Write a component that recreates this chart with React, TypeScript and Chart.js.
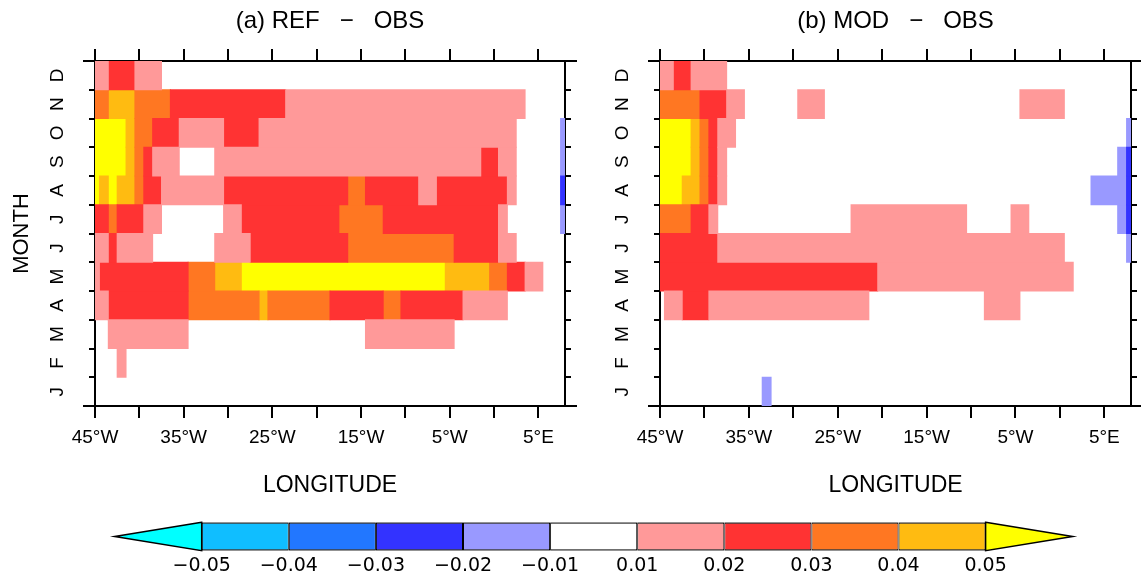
import React, { useEffect, useRef } from 'react';
import { Chart, registerables } from 'chart.js';

Chart.register(...registerables);

// ---------- axes / categories ----------
const months = ['Jan', 'Feb', 'Mar', 'Apr', 'May', 'Jun', 'Jul', 'Aug', 'Sep', 'Oct', 'Nov', 'Dec'];
const monthLetters = ['J', 'F', 'M', 'A', 'M', 'J', 'J', 'A', 'S', 'O', 'N', 'D'];
const lonMin = -45;
const lonMax = 8;
const lonTicks = [-45, -40, -35, -30, -25, -20, -15, -10, -5, 0, 5];
const lonTickLabels = ['45°W', '', '35°W', '', '25°W', '', '15°W', '', '5°W', '', '5°E'];

// ---------- contour levels ----------
const levelBounds = [-0.05, -0.04, -0.03, -0.02, -0.01, 0.01, 0.02, 0.03, 0.04, 0.05];
const levelLabels = ['−0.05', '−0.04', '−0.03', '−0.02', '−0.01', '0.01', '0.02', '0.03', '0.04', '0.05'];
const levelColors = ['#00FFFF', '#10BEFF', '#2277FF', '#3333FF', '#9999FF', '#FFFFFF', '#FF9999', '#FF3333', '#FF7722', '#FFBB11', '#FFFF00'];

// ---------- panel (a) REF − OBS : runs [first lon, last lon, value] (1° cells) ----------
const refJan: number[][] = [];
const refFeb = [[-42, -42, 0.015]];
const refMar = [[-43, -35, 0.015], [-14, -5, 0.015]];
const refApr = [[-45, -44, 0.015], [-43, -35, 0.025], [-34, -27, 0.035], [-26, -26, 0.045], [-25, -19, 0.035], [-18, -13, 0.025], [-12, -11, 0.035], [-10, -4, 0.025], [-3, 1, 0.015]];
const refMay = [[-45, -45, 0.015], [-44, -35, 0.025], [-34, -32, 0.035], [-31, -29, 0.045], [-28, -6, 0.055], [-5, -1, 0.045], [0, 1, 0.035], [2, 3, 0.025], [4, 5, 0.015]];
const refJun = [[-45, -44, 0.015], [-43, -43, 0.025], [-42, -39, 0.015], [-31, -28, 0.015], [-27, -17, 0.025], [-16, -5, 0.035], [-4, 0, 0.025], [1, 2, 0.015]];
const refJul = [[-45, -44, 0.025], [-43, -43, 0.035], [-42, -40, 0.025], [-39, -38, 0.015], [-30, -29, 0.015], [-28, -18, 0.025], [-17, -13, 0.035], [-12, 0, 0.025], [1, 1, 0.015], [8, 8, -0.015]];
const refAug = [[-45, -45, 0.055], [-44, -44, 0.045], [-43, -43, 0.055], [-42, -41, 0.045], [-40, -40, 0.035], [-39, -38, 0.025], [-37, -31, 0.015], [-30, -17, 0.025], [-16, -15, 0.035], [-14, -9, 0.025], [-8, -7, 0.015], [-6, 1, 0.025], [2, 2, 0.015], [8, 8, -0.025]];
const refSep = [[-45, -42, 0.055], [-41, -41, 0.045], [-40, -40, 0.035], [-39, -39, 0.025], [-38, -36, 0.015], [-31, -2, 0.015], [-1, 0, 0.025], [1, 2, 0.015], [8, 8, -0.015]];
const refOct = [[-45, -42, 0.055], [-41, -41, 0.045], [-40, -39, 0.035], [-38, -36, 0.025], [-35, -31, 0.015], [-30, -27, 0.025], [-26, 2, 0.015], [8, 8, -0.015]];
const refNov = [[-45, -44, 0.035], [-43, -41, 0.045], [-40, -37, 0.035], [-36, -24, 0.025], [-23, 3, 0.015]];
const refDec = [[-45, -44, 0.015], [-43, -41, 0.025], [-40, -38, 0.015]];

// ---------- panel (b) MOD − OBS ----------
const modJan = [[-33, -33, -0.015]];
const modFeb: number[][] = [];
const modMar: number[][] = [];
const modApr = [[-44, -43, 0.015], [-42, -40, 0.025], [-39, -22, 0.015], [-8, -5, 0.015]];
const modMay = [[-45, -21, 0.025], [-20, 1, 0.015]];
const modJun = [[-45, -39, 0.025], [-38, 0, 0.015], [8, 8, -0.015]];
const modJul = [[-45, -42, 0.035], [-41, -40, 0.025], [-39, -39, 0.015], [-23, -11, 0.015], [-5, -4, 0.015], [7, 7, -0.015], [8, 8, -0.025]];
const modAug = [[-45, -43, 0.055], [-42, -41, 0.045], [-40, -40, 0.035], [-39, -39, 0.025], [-38, -38, 0.015], [4, 7, -0.015], [8, 8, -0.025]];
const modSep = [[-45, -42, 0.055], [-41, -41, 0.045], [-40, -40, 0.035], [-39, -39, 0.025], [-38, -38, 0.015], [7, 7, -0.015], [8, 8, -0.025]];
const modOct = [[-45, -42, 0.055], [-41, -41, 0.045], [-40, -40, 0.035], [-39, -39, 0.025], [-38, -37, 0.015], [8, 8, -0.015]];
const modNov = [[-45, -41, 0.035], [-40, -38, 0.025], [-37, -36, 0.015], [-29, -27, 0.015], [-4, 0, 0.015]];
const modDec = [[-45, -44, 0.015], [-43, -42, 0.025], [-41, -38, 0.015]];

const refRows = [refJan, refFeb, refMar, refApr, refMay, refJun, refJul, refAug, refSep, refOct, refNov, refDec];
const modRows = [modJan, modFeb, modMar, modApr, modMay, modJun, modJul, modAug, modSep, modOct, modNov, modDec];

const FONT = "'Liberation Sans', Arial, sans-serif";

function levelIndex(v: number) {
  let i = 0;
  while (i < levelBounds.length && v >= levelBounds[i]) i++;
  return i;
}

function buildDatasets(rows: number[][][]) {
  const groups: Record<number, { x: [number, number]; y: string }[]> = {};
  rows.forEach((runs, m) =>
    runs.forEach(([a, b, v]) => {
      const li = levelIndex(v);
      (groups[li] = groups[li] || []).push({
        x: [Math.max(a - 0.5, lonMin), Math.min(b + 0.5, lonMax)],
        y: months[m],
      });
    })
  );
  return Object.keys(groups).map((k) => ({
    label: 'level ' + k,
    data: groups[+k],
    backgroundColor: levelColors[+k],
    borderWidth: 0,
    grouped: false,
    barPercentage: 1,
    categoryPercentage: 1,
    inflateAmount: 0.5,
    clip: 0,
  }));
}

const cornerTicks = {
  id: 'cornerTicks',
  afterDraw(chart: any) {
    const { ctx, chartArea } = chart;
    const { left, right, top, bottom } = chartArea;
    ctx.save();
    ctx.strokeStyle = '#000';
    ctx.lineWidth = 2;
    ctx.beginPath();
    [top, bottom].forEach((y: number) => {
      ctx.moveTo(left - 12, y);
      ctx.lineTo(left, y);
      ctx.moveTo(right, y);
      ctx.lineTo(right + 12, y);
    });
    ctx.stroke();
    ctx.restore();
  },
};

type Geo = { w: number; h: number; left: number; right: number; top: number; bottom: number };

function panelConfig(rows: number[][][], title: string, monthTitle: boolean, g: Geo): any {
  const gridOpts = (len: number, offset: boolean) => ({
    offset,
    drawOnChartArea: false,
    drawTicks: true,
    tickLength: len,
    color: '#000',
    lineWidth: 2,
    tickWidth: 2,
    tickColor: '#000',
  });
  const border = { display: true, color: '#000', width: 2 };
  const setLonTicks = (s: any) => {
    s.ticks = lonTicks.map((v) => ({ value: v }));
  };
  return {
    type: 'bar',
    data: { labels: months, datasets: buildDatasets(rows) },
    options: {
      indexAxis: 'y',
      animation: false,
      responsive: false,
      events: [],
      layout: { padding: 0 },
      plugins: { legend: { display: false }, tooltip: { enabled: false }, title: { display: false } },
      scales: {
        x: {
          type: 'linear',
          position: 'bottom',
          min: lonMin,
          max: lonMax,
          afterBuildTicks: setLonTicks,
          afterFit: (s: any) => {
            s.height = g.h - g.bottom;
          },
          ticks: {
            autoSkip: false,
            maxRotation: 0,
            minRotation: 0,
            color: '#000',
            font: { family: FONT, size: 19 },
            padding: 8,
            callback: (_v: any, i: number) => lonTickLabels[i],
          },
          grid: gridOpts(12, false),
          border,
          title: { display: true, text: 'LONGITUDE', color: '#000', font: { family: FONT, size: 23 }, padding: { top: 0, bottom: 11 } },
        },
        xTop: {
          type: 'linear',
          position: 'top',
          min: lonMin,
          max: lonMax,
          afterBuildTicks: setLonTicks,
          afterFit: (s: any) => {
            s.height = g.top;
          },
          ticks: { display: false },
          grid: gridOpts(12, false),
          border,
          title: { display: true, text: title, color: '#000', font: { family: FONT, size: 24 }, padding: { top: 7, bottom: 0 } },
        },
        y: {
          type: 'category',
          position: 'left',
          offset: true,
          reverse: true,
          afterFit: (s: any) => {
            s.width = g.left;
          },
          ticks: {
            autoSkip: false,
            minRotation: 90,
            maxRotation: 90,
            crossAlign: 'center',
            padding: 23,
            color: '#000',
            font: { family: FONT, size: 19 },
            callback: (_v: any, i: number) => monthLetters[i],
          },
          grid: gridOpts(6, true),
          border,
          title: { display: monthTitle, text: 'MONTH', color: '#000', font: { family: FONT, size: 22 }, padding: { top: 9, bottom: 0 } },
        },
        yRight: {
          type: 'category',
          position: 'right',
          offset: true,
          reverse: true,
          afterFit: (s: any) => {
            s.width = g.w - g.right;
          },
          ticks: { display: false },
          grid: gridOpts(6, true),
          border,
        },
      },
    },
    plugins: [cornerTicks],
  };
}

const arrowEnds = {
  id: 'arrowEnds',
  afterDatasetsDraw(chart: any) {
    const { ctx, chartArea } = chart;
    const xs = chart.scales.x;
    const { top, bottom } = chartArea;
    const mid = (top + bottom) / 2;
    const draw = (tipV: number, baseV: number, color: string) => {
      const tip = xs.getPixelForValue(tipV);
      const base = xs.getPixelForValue(baseV);
      ctx.beginPath();
      ctx.moveTo(base, top);
      ctx.lineTo(tip, mid);
      ctx.lineTo(base, bottom);
      ctx.closePath();
      ctx.fillStyle = color;
      ctx.fill();
      ctx.stroke();
    };
    ctx.save();
    ctx.strokeStyle = '#000';
    ctx.lineWidth = 1.5;
    ctx.lineJoin = 'miter';
    draw(-1, 0, levelColors[0]);
    draw(levelBounds.length, levelBounds.length - 1, levelColors[levelColors.length - 1]);
    ctx.restore();
  },
};

function colorbarConfig(): any {
  const boxes = levelColors.slice(1, levelColors.length - 1);
  return {
    type: 'bar',
    data: {
      labels: ['cb'],
      datasets: boxes.map((c, i) => ({
        label: levelLabels[i] + ' to ' + levelLabels[i + 1],
        data: [{ x: [i, i + 1], y: 'cb' }],
        backgroundColor: c,
        borderColor: '#000',
        borderWidth: { top: 1.5, bottom: 1.5, left: 1, right: 1 },
        borderSkipped: false,
        grouped: false,
        barPercentage: 1,
        categoryPercentage: 1,
        inflateAmount: 0,
      })),
    },
    options: {
      indexAxis: 'y',
      animation: false,
      responsive: false,
      events: [],
      layout: { padding: { left: 114.6, right: 68.3, top: 12.3, bottom: 0 } },
      plugins: { legend: { display: false }, tooltip: { enabled: false } },
      scales: {
        x: {
          type: 'linear',
          min: -1,
          max: levelBounds.length,
          afterBuildTicks: (s: any) => {
            s.ticks = levelLabels.map((_l, i) => ({ value: i }));
          },
          afterFit: (s: any) => {
            s.height = 29.3;
          },
          grid: { display: false },
          border: { display: false },
          ticks: {
            autoSkip: false,
            maxRotation: 0,
            minRotation: 0,
            color: '#000',
            font: { family: "'DejaVu Sans', sans-serif", size: 19 },
            padding: -4,
            callback: (_v: any, i: number) => levelLabels[i],
          },
        },
        y: { type: 'category', display: false, offset: true },
      },
    },
    plugins: [arrowEnds],
  };
}

export default function App() {
  const aRef = useRef<HTMLCanvasElement>(null);
  const bRef = useRef<HTMLCanvasElement>(null);
  const cRef = useRef<HTMLCanvasElement>(null);

  useEffect(() => {
    const charts = [
      new Chart(aRef.current as HTMLCanvasElement, panelConfig(refRows, '(a) REF   −   OBS', true, { w: 600, h: 510, left: 95, right: 565, top: 61, bottom: 406 })),
      new Chart(bRef.current as HTMLCanvasElement, panelConfig(modRows, '(b) MOD   −   OBS', false, { w: 541, h: 510, left: 60, right: 531, top: 61, bottom: 406 })),
      new Chart(cRef.current as HTMLCanvasElement, colorbarConfig()),
    ];
    return () => charts.forEach((c) => c.destroy());
  }, []);

  return (
    <div style={{ position: 'absolute', left: 0, top: 0, width: 1141, height: 580, background: '#fff' }}>
      <canvas ref={aRef} width={600} height={510} style={{ position: 'absolute', left: 0, top: 0 }} />
      <canvas ref={bRef} width={541} height={510} style={{ position: 'absolute', left: 600, top: 0 }} />
      <canvas ref={cRef} width={1141} height={70} style={{ position: 'absolute', left: 0, top: 510 }} />
    </div>
  );
}
